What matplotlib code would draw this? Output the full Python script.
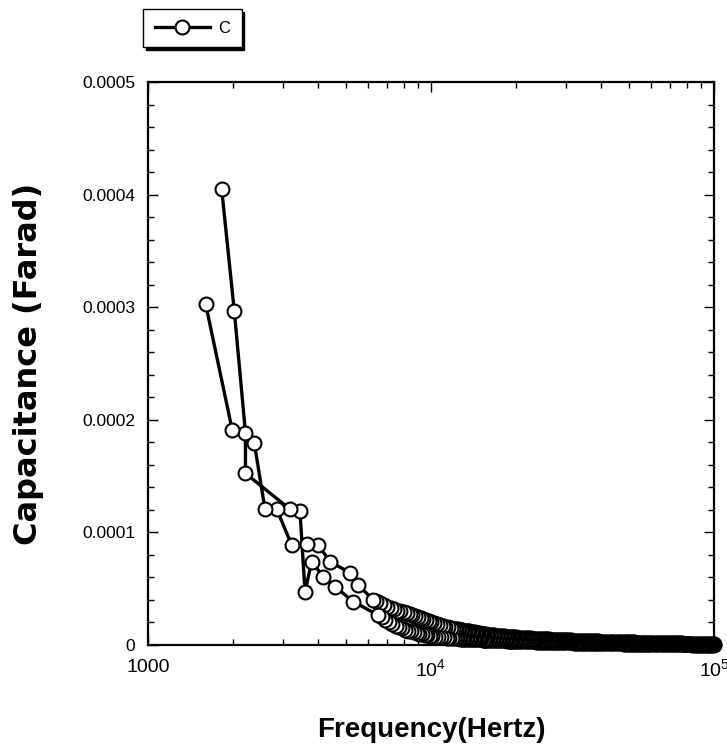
import matplotlib
matplotlib.use("Agg")
import matplotlib.pyplot as plt
from matplotlib.lines import Line2D
from matplotlib.ticker import MultipleLocator, FixedLocator, FuncFormatter, LogLocator, NullFormatter

plt.rcParams['font.family'] = ['Liberation Sans', 'DejaVu Sans']
plt.rcParams['mathtext.fontset'] = 'custom'
plt.rcParams['mathtext.rm'] = 'Liberation Sans'

# two interleaved sweeps of the same measurement
# low part: frequency in Hz, capacitance in microfarad
freq_a_low = [1599, 1986, 2375, 2591, 2850, 3220, 3650, 3998, 4395, 5173, 5534, 6252]
cap_a_low = [302.6, 190.5, 179.3, 120.5, 120.5, 88.8, 89.5, 88.8, 74.0, 64.2, 53.3, 40.0]
freq_b_low = [1821, 2018, 2210, 2210, 3176, 3443, 3588, 3787, 4163, 4580, 5314, 6495]
cap_b_low = [405.0, 296.6, 188.5, 152.5, 120.5, 119.3, 47.3, 74.0, 60.7, 51.8, 38.5, 26.6]

# high part: frequency in kHz, capacitance in microfarad
freq_a_khz = [
    6.4, 6.6, 6.8, 7.0, 7.2, 7.4, 7.6, 7.8, 8.0, 8.2, 8.4, 8.6, 8.8, 9.0, 9.2, 9.4, 9.6, 9.8,
    10.0, 10.25, 10.5, 10.75, 11.0, 11.25, 11.5, 11.75,
    12.0, 12.15, 12.3, 12.45, 12.6, 12.75, 12.9, 13.05, 13.2, 13.35, 13.5, 13.65, 13.8, 13.95,
    14.1, 14.25, 14.4, 14.55, 14.7, 14.85, 15.0, 15.15, 15.3, 15.45, 15.6, 15.75, 15.9,
    16.1, 16.3, 16.5, 16.7, 16.9, 17.1, 17.3, 17.5, 17.7, 17.9,
    18.1, 18.3, 18.5, 18.7, 18.9, 19.1, 19.3, 19.5, 19.7, 19.9,
    20.1, 20.4, 20.7, 21.0, 21.3, 21.6, 21.9, 22.2, 22.5, 22.8, 23.1, 23.4, 23.7, 24.0, 24.3,
    24.6, 24.9, 25.2, 25.5, 25.8, 26.1, 26.4, 26.7, 27.0, 27.3, 27.6, 27.9, 28.2, 28.5, 28.8,
    29.1, 29.4, 29.7,
    30.0, 30.45, 30.9, 31.35, 31.8, 32.25, 32.7, 33.15, 33.6, 34.05, 34.5, 34.95,
    35.4, 35.85, 36.3, 36.75, 37.2, 37.65, 38.1, 38.55, 39.0, 39.45, 39.9,
    40.5, 41.15, 41.8, 42.45, 43.1, 43.75, 44.4, 45.05, 45.7, 46.35, 47.0, 47.65, 48.3, 48.95, 49.6,
    50.25, 50.9, 51.55, 52.2, 52.85, 53.5, 54.15, 54.8, 55.45, 56.1, 56.75, 57.4, 58.05, 58.7, 59.35,
    60.0, 60.9, 61.8, 62.7, 63.6, 64.5, 65.4, 66.3, 67.2, 68.1, 69.0, 69.9,
    70.8, 71.7, 72.6, 73.5, 74.4, 75.3, 76.2, 77.1, 78.0, 78.9, 79.8,
    80.9, 82.05, 83.2, 84.35, 85.5, 86.65, 87.8, 88.95, 90.1, 91.25, 92.4, 93.55,
    94.7, 95.85, 97.0, 98.15, 99.3, 100.0]
cap_a_high = [
    38.8, 37.1, 35.5, 34.0, 32.7, 31.6, 30.6, 29.8, 29.0, 28.1, 27.2, 26.3, 25.4, 24.5, 23.6, 22.7, 21.8, 20.9,
    20.0, 19.2, 18.5, 17.7, 17.0, 16.4, 15.7, 15.1,
    14.5, 14.3, 14.0, 13.8, 13.5, 13.3, 13.0, 12.8, 12.6, 12.4, 12.2, 12.0, 11.8, 11.6,
    11.4, 11.2, 11.0, 10.8, 10.6, 10.4, 10.2, 10.0, 9.8, 9.7, 9.5, 9.3, 9.1,
    9.0, 8.9, 8.7, 8.6, 8.4, 8.3, 8.1, 8.0, 7.9, 7.8,
    7.6, 7.5, 7.4, 7.3, 7.2, 7.1, 7.0, 6.9, 6.8, 6.7,
    6.6, 6.5, 6.4, 6.3, 6.2, 6.1, 6.0, 5.9, 5.8, 5.7, 5.6, 5.5, 5.5, 5.4, 5.3,
    5.2, 5.1, 5.1, 5.0, 4.9, 4.9, 4.8, 4.7, 4.7, 4.6, 4.6, 4.5, 4.5, 4.4, 4.4,
    4.3, 4.3, 4.2,
    4.1, 4.1, 4.0, 4.0, 3.9, 3.9, 3.8, 3.8, 3.7, 3.7, 3.6, 3.6,
    3.5, 3.5, 3.4, 3.4, 3.4, 3.3, 3.3, 3.2, 3.2, 3.1, 3.1,
    3.0, 3.0, 2.9, 2.9, 2.8, 2.8, 2.7, 2.7, 2.6, 2.6, 2.6, 2.5, 2.5, 2.4, 2.4,
    2.4, 2.3, 2.3, 2.3, 2.2, 2.2, 2.2, 2.1, 2.1, 2.1, 2.0, 2.0, 2.0, 1.9, 1.9,
    1.9, 1.8, 1.8, 1.8, 1.7, 1.7, 1.7, 1.7, 1.6, 1.6, 1.6, 1.6,
    1.5, 1.5, 1.5, 1.5, 1.4, 1.4, 1.4, 1.4, 1.3, 1.3, 1.3,
    1.3, 1.2, 1.2, 1.2, 1.1, 1.1, 1.1, 1.1, 1.0, 1.0, 1.0, 1.0,
    0.9, 0.9, 0.9, 0.9, 0.8, 0.8]

freq_b_khz = [
    6.7, 6.9, 7.1, 7.3, 7.5, 7.7, 7.9, 8.1, 8.3, 8.5, 8.7, 8.9, 9.1, 9.3, 9.5, 9.7, 9.9,
    10.1, 10.35, 10.6, 10.85, 11.1, 11.35, 11.6, 11.85,
    12.07, 12.22, 12.37, 12.52, 12.67, 12.82, 12.97, 13.12, 13.27, 13.42, 13.57, 13.72, 13.87, 14.02,
    14.17, 14.32, 14.47, 14.62, 14.77, 14.92, 15.07, 15.22, 15.37, 15.52, 15.67, 15.82, 15.97,
    16.2, 16.4, 16.6, 16.8, 17.0, 17.2, 17.4, 17.6, 17.8, 18.0,
    18.2, 18.4, 18.6, 18.8, 19.0, 19.2, 19.4, 19.6, 19.8, 20.0,
    20.25, 20.55, 20.85, 21.15, 21.45, 21.75, 22.05, 22.35, 22.65, 22.95, 23.25, 23.55, 23.85, 24.15, 24.45,
    24.75, 25.05, 25.35, 25.65, 25.95, 26.25, 26.55, 26.85, 27.15, 27.45, 27.75, 28.05, 28.35, 28.65, 28.95,
    29.25, 29.55, 29.85,
    30.2, 30.65, 31.1, 31.55, 32.0, 32.45, 32.9, 33.35, 33.8, 34.25, 34.7,
    35.15, 35.6, 36.05, 36.5, 36.95, 37.4, 37.85, 38.3, 38.75, 39.2, 39.65,
    40.2, 40.85, 41.5, 42.15, 42.8, 43.45, 44.1, 44.75, 45.4, 46.05, 46.7, 47.35, 48.0, 48.65, 49.3,
    49.95, 50.6, 51.25, 51.9, 52.55, 53.2, 53.85, 54.5, 55.15, 55.8, 56.45, 57.1, 57.75, 58.4, 59.05,
    59.5, 60.4, 61.3, 62.2, 63.1, 64.0, 64.9, 65.8, 66.7, 67.6, 68.5, 69.4,
    70.3, 71.2, 72.1, 73.0, 73.9, 74.8, 75.7, 76.6, 77.5, 78.4, 79.3,
    80.3, 81.45, 82.6, 83.75, 84.9, 86.05, 87.2, 88.35, 89.5, 90.65, 91.8, 92.95,
    94.1, 95.25, 96.4, 97.55, 98.7, 99.85]
cap_b_high = [
    24.5, 22.6, 20.8, 19.0, 17.0, 15.8, 14.7, 13.7, 12.8, 12.0, 11.3, 10.6, 10.0, 9.5, 9.0, 8.5, 8.1,
    7.7, 7.4, 7.1, 6.9, 6.7, 6.5, 6.3, 6.1,
    6.0, 5.9, 5.9, 5.8, 5.7, 5.7, 5.6, 5.6, 5.5, 5.4, 5.4, 5.3, 5.3, 5.2,
    5.2, 5.1, 5.1, 5.0, 5.0, 4.9, 4.9, 4.8, 4.8, 4.7, 4.7, 4.6, 4.6,
    4.5, 4.5, 4.4, 4.4, 4.3, 4.3, 4.2, 4.2, 4.1, 4.1,
    4.0, 4.0, 3.9, 3.9, 3.8, 3.8, 3.7, 3.7, 3.6, 3.6,
    3.5, 3.5, 3.4, 3.4, 3.4, 3.3, 3.3, 3.3, 3.2, 3.2, 3.2, 3.1, 3.1, 3.1, 3.0,
    3.0, 3.0, 2.9, 2.9, 2.9, 2.8, 2.8, 2.8, 2.7, 2.7, 2.7, 2.6, 2.6, 2.6, 2.5,
    2.5, 2.5, 2.4,
    2.4, 2.4, 2.3, 2.3, 2.2, 2.2, 2.2, 2.1, 2.1, 2.1, 2.0,
    2.0, 2.0, 1.9, 1.9, 1.9, 1.8, 1.8, 1.8, 1.8, 1.7, 1.7,
    1.7, 1.6, 1.6, 1.6, 1.5, 1.5, 1.5, 1.5, 1.4, 1.4, 1.4, 1.4, 1.3, 1.3, 1.3,
    1.3, 1.2, 1.2, 1.2, 1.2, 1.1, 1.1, 1.1, 1.1, 1.1, 1.0, 1.0, 1.0, 1.0, 1.0,
    1.0, 0.9, 0.9, 0.9, 0.9, 0.8, 0.8, 0.8, 0.8, 0.8, 0.7, 0.7,
    0.7, 0.7, 0.7, 0.6, 0.6, 0.6, 0.6, 0.6, 0.5, 0.5, 0.5,
    0.5, 0.5, 0.5, 0.4, 0.4, 0.4, 0.4, 0.4, 0.3, 0.3, 0.3, 0.3,
    0.3, 0.3, 0.2, 0.2, 0.2, 0.2]

assert len(freq_a_khz) == len(cap_a_high), (len(freq_a_khz), len(cap_a_high))
assert len(freq_b_khz) == len(cap_b_high), (len(freq_b_khz), len(cap_b_high))

ytick_vals = [0, 0.0001, 0.0002, 0.0003, 0.0004, 0.0005]
xtick_vals = [1000, 10000, 100000]
xtick_labels = ['1000', r'$10^4$', r'$10^5$']

freq_a = freq_a_low + [f * 1000 for f in freq_a_khz]
cap_a = [c * 1e-6 for c in cap_a_low + cap_a_high]
freq_b = freq_b_low + [f * 1000 for f in freq_b_khz]
cap_b = [c * 1e-6 for c in cap_b_low + cap_b_high]

fig = plt.figure(figsize=(7.27, 7.49), dpi=100)
ax = fig.add_axes([148 / 727, 104 / 749, 566 / 727, 563 / 749])

sym = dict(marker='o', ms=10, mfc='white', mec='black', mew=1.5)

# lines first, then the symbols of both sweeps, high frequency first
ax.plot(freq_a, cap_a, color='black', lw=2.4, zorder=2)
ax.plot(freq_b, cap_b, color='black', lw=2.4, zorder=2)
pts = sorted(zip(freq_a + freq_b, cap_a + cap_b), reverse=True)
ax.plot([p[0] for p in pts], [p[1] for p in pts], ls='none', zorder=3, clip_on=False, **sym)

ax.set_xscale('log')
ax.set_xlim(1000, 100000)
ax.set_ylim(0, 0.0005)
ax.xaxis.set_major_locator(FixedLocator(xtick_vals))
ax.set_xticklabels(xtick_labels)
ax.xaxis.set_minor_locator(LogLocator(base=10, subs=range(2, 10)))
ax.xaxis.set_minor_formatter(NullFormatter())
ax.yaxis.set_major_locator(FixedLocator(ytick_vals))
ax.yaxis.set_minor_locator(MultipleLocator(0.00002))
ax.yaxis.set_major_formatter(FuncFormatter(lambda v, p: '0' if v == 0 else f'{v:.4f}'))

ax.tick_params(which='both', direction='in', top=True, right=True, width=1, colors='black')
ax.tick_params(which='major', length=7, pad=9)
ax.tick_params(which='minor', length=4)
ax.tick_params(axis='y', labelsize=12.5)
ax.tick_params(axis='x', labelsize=14, pad=10)
for s in ax.spines.values():
    s.set_linewidth(1.6)

ax.set_xlabel('Frequency(Hertz)', fontsize=20, fontweight='bold')
ax.set_ylabel('Capacitance (Farad)', fontsize=23, fontweight='bold', family=['DejaVu Sans'])
ax.xaxis.set_label_coords(0.5, -0.151)
ax.yaxis.set_label_coords(-0.212, 0.5)
ax.xaxis.label.set_va('center')
ax.yaxis.label.set_va('center')

handle = Line2D([], [], color='black', lw=2.4, **sym)
fig.legend([handle], ['C'], loc='upper left', bbox_to_anchor=(143 / 727, 1 - 9 / 749),
           borderaxespad=0, fancybox=False, edgecolor='black', framealpha=1,
           shadow={'color': 'black', 'alpha': 1}, fontsize=12, handlelength=3.3,
           handletextpad=0.5, borderpad=0.7, numpoints=1)

fig.savefig('out.png', dpi=100)
